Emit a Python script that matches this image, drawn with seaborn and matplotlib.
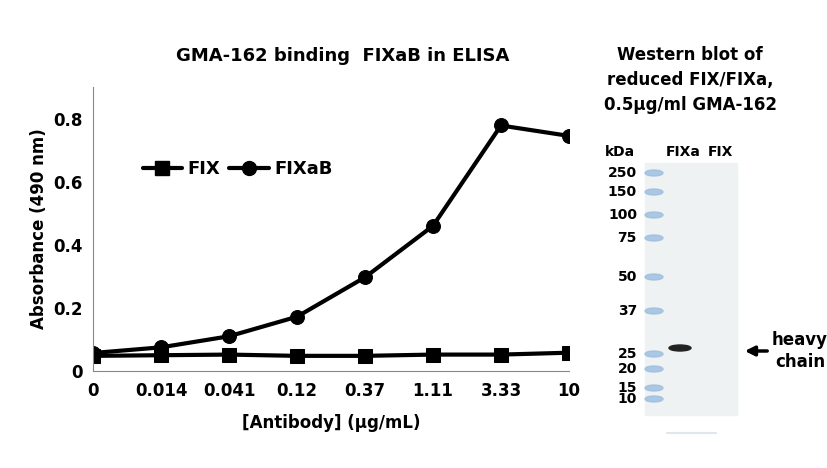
import matplotlib
matplotlib.use("Agg")
import matplotlib.pyplot as plt
from matplotlib.patches import Ellipse
from matplotlib.lines import Line2D
import pandas as pd
import seaborn as sns

# ELISA data
concentrations = ["0", "0.014", "0.041", "0.12", "0.37", "1.11", "3.33", "10"]
fix_values = [0.048, 0.050, 0.052, 0.048, 0.048, 0.052, 0.052, 0.058]
fixab_values = [0.057, 0.075, 0.110, 0.172, 0.297, 0.460, 0.778, 0.745]

# Western blot ladder (kDa labels and band rows in pixel coords)
ladder_labels = ["250", "150", "100", "75", "50", "37", "25", "20", "15", "10"]
ladder_rows = [173, 192, 215, 238, 277, 311, 354, 369, 388, 399]

W, H = 827, 468
sns.set_style("white")
plt.rcParams["text.color"] = "black"
fig = plt.figure(figsize=(W / 100, H / 100), dpi=100)

ax = fig.add_axes([93 / W, 1 - 371 / H, 476 / W, 284 / H])
df = pd.DataFrame({
    "x": list(range(len(concentrations))) * 2,
    "y": fix_values + fixab_values,
    "series": ["FIX"] * len(fix_values) + ["FIXaB"] * len(fixab_values),
})
sns.lineplot(data=df, x="x", y="y", hue="series", style="series",
             palette=["black", "black"], markers={"FIX": "s", "FIXaB": "o"},
             dashes=False, markersize=10, markeredgecolor="black", linewidth=3,
             ax=ax, legend=False)
ax.set_xlim(0, 7)
ax.set_ylim(0, 0.9)
ax.set_yticks([0, 0.2, 0.4, 0.6, 0.8])
ax.set_yticklabels(["0", "0.2", "0.4", "0.6", "0.8"])
ax.set_xticks(range(len(concentrations)))
ax.set_xticklabels(concentrations)
ax.tick_params(labelsize=12, length=4, direction="out", colors="black")
ax.tick_params(axis="x", length=0, pad=8)
for lab in ax.get_xticklabels() + ax.get_yticklabels():
    lab.set_fontweight("bold")
ax.spines[["top", "right"]].set_visible(False)
ax.spines[["left", "bottom"]].set_color("#888888")
ax.set_xlabel("[Antibody] (µg/mL)", fontsize=12, fontweight="bold", labelpad=10, color="black")
ax.set_ylabel("Absorbance (490 nm)", fontsize=12, fontweight="bold", color="black")

handles = [Line2D([], [], color="black", lw=3, marker="s", markersize=10),
           Line2D([], [], color="black", lw=3, marker="o", markersize=10)]
ax.legend(handles, ["FIX", "FIXaB"], loc="upper left", bbox_to_anchor=(0.07, 0.8),
          ncol=2, frameon=False, prop={"weight": "bold", "size": 13},
          handlelength=2.2, columnspacing=0.5, handletextpad=0.3)

fig.text(343 / W, 1 - 56 / H, "GMA-162 binding  FIXaB in ELISA", ha="center",
         va="center", fontsize=13, fontweight="bold")

# blot panel
bx = fig.add_axes([640 / W, 1 - 440 / H, 100 / W, 282 / H])
bx.set_xlim(640, 740)
bx.set_ylim(440, 158)
bx.axis("off")
bx.add_patch(plt.Rectangle((645, 163), 92, 252, color="#eef2f2"))
for r in ladder_rows:
    bx.add_patch(Ellipse((654, r), 18, 6, color="#9bbde0", alpha=0.8))
bx.add_patch(Ellipse((680, 348), 22, 6, color="#222222"))
bx.plot([667, 716], [433, 433], color="#dfe6ee", lw=1.5)

for lab, r in zip(ladder_labels, ladder_rows):
    fig.text(637 / W, 1 - r / H, lab, ha="right", va="center", fontsize=10,
             fontweight="bold")
fig.text(605 / W, 1 - 152 / H, "kDa", fontsize=10, fontweight="bold", va="center")
fig.text(666 / W, 1 - 152 / H, "FIXa", fontsize=10, fontweight="bold", va="center")
fig.text(708 / W, 1 - 152 / H, "FIX", fontsize=10, fontweight="bold", va="center")
fig.text(690 / W, 1 - 80 / H, "Western blot of\nreduced FIX/FIXa,\n0.5µg/ml GMA-162",
         ha="center", va="center", fontsize=12, fontweight="bold", linespacing=1.5)
ax.annotate("", xy=(742 / W, 1 - 351 / H), xytext=(770 / W, 1 - 351 / H),
            xycoords="figure fraction", textcoords="figure fraction",
            arrowprops=dict(arrowstyle="-|>", lw=2.5, color="black", mutation_scale=14))
fig.text(800 / W, 1 - 351 / H, "heavy\nchain", ha="center", va="center",
         fontsize=12, fontweight="bold", linespacing=1.3)

fig.savefig("out.png", dpi=100)
